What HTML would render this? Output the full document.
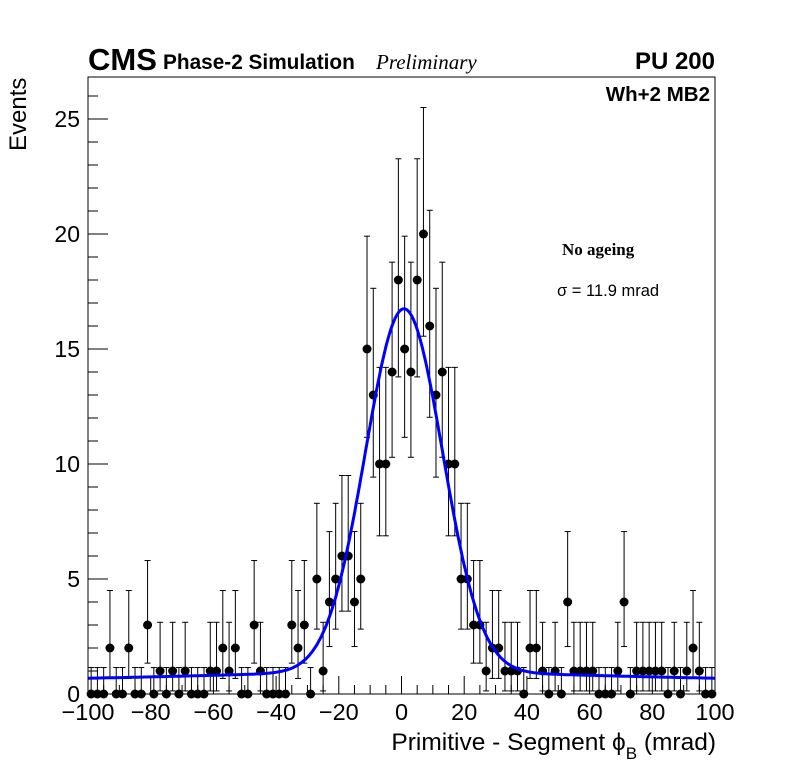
<!DOCTYPE html>
<html><head><meta charset="utf-8"><style>
body{margin:0;background:#fff;}
svg text{font-family:"Liberation Sans",sans-serif;}
</style></head><body>
<svg id="chart" width="796" height="772" xmlns="http://www.w3.org/2000/svg">
<rect width="796" height="772" fill="#fff"/>
<g id="axes"></g>
<g id="marks"></g>
<path id="fit" fill="none" stroke="#0000ff" stroke-width="3"/>
<rect x="88" y="77" width="627" height="617" fill="none" stroke="#000" stroke-width="1"/>
<text x="88" y="70" font-size="31" font-weight="bold">CMS</text>
<text x="163" y="69" font-size="20.8" font-weight="bold">Phase-2 Simulation</text>
<text x="376" y="69" font-size="21" font-style="italic" style="font-family:'Liberation Serif',serif">Preliminary</text>
<text x="715" y="69" font-size="24" font-weight="bold" text-anchor="end">PU 200</text>
<text x="710" y="101" font-size="20.5" font-weight="bold" text-anchor="end">Wh+2 MB2</text>
<text x="562" y="255" font-size="17" font-weight="bold" style="font-family:'Liberation Serif',serif">No ageing</text>
<text x="557" y="296" font-size="16.5">σ = 11.9 mrad</text>
<text transform="translate(26,151) rotate(-90)" font-size="24" text-anchor="start">Events</text>
<text x="716" y="750" font-size="24.5" text-anchor="end">Primitive - Segment ϕ<tspan font-size="17" dy="9">B</tspan><tspan dy="-9"> (mrad)</tspan></text>
</svg>
<script>
const counts=[0,0,0,2,0,0,2,0,0,3,0,1,0,1,0,1,0,0,0,1,1,2,1,2,0,0,3,1,0,0,0,0,3,2,3,0,5,1,4,5,6,6,4,5,15,13,10,10,14,18,15,14,18,20,16,13,14,10,10,5,5,3,3,1,2,2,1,1,1,0,2,2,1,0,1,0,4,1,1,1,1,0,0,0,1,4,0,1,1,1,1,1,0,1,0,1,2,1,0,0];
const xMin=-100, binWidth=2;
const fitAmp=15.8, fitMean=0.8, fitSigma=12.3, bkgBase=0.6, bkgAmp=0.35, bkgWidth=60;
const xTicks=[-100,-80,-60,-40,-20,0,20,40,60,80,100];
const yTicks=[0,5,10,15,20,25];
const NS="http://www.w3.org/2000/svg";
const X0=88,X1=715,Y0=694,PPU=23;
function sx(v){return X0+(v-xMin)/200*(X1-X0);}
function sy(v){return Y0-v*PPU;}
function mk(tag,attrs,parent){const e=document.createElementNS(NS,tag);for(const k in attrs)e.setAttribute(k,attrs[k]);parent.appendChild(e);return e;}
const axes=document.getElementById('axes'),marks=document.getElementById('marks');
for(let v=-100;v<=100;v+=5){
  const major=v%20===0;const t=mk('line',{x1:sx(v),x2:sx(v),y1:Y0,y2:Y0-(major?18:9),stroke:'#000','stroke-width':1},axes);
  
  
}
xTicks.forEach(v=>{const t=mk('text',{x:sx(v),y:720,'font-size':23.5,'text-anchor':'middle'},axes);t.textContent=(v<0?'\u2212'+(-v):v);
  
  });
for(let v=0;v<=26;v+=1){
  const major=v%5===0;const t=mk('line',{x1:X0,x2:X0+(major?20:10),y1:sy(v),y2:sy(v),stroke:'#000','stroke-width':1},axes);
  
  
}
yTicks.forEach(v=>{const t=mk('text',{x:80,y:sy(v)+8,'font-size':23,'text-anchor':'end'},axes);t.textContent=v;
  
  });
counts.forEach((n,i)=>{
  const xc=xMin+binWidth*(i+0.5),px=sx(xc);
  const up=n===0?1.15:n+Math.sqrt(n+0.25)+1;
  const lo=n===0?0:Math.max(0,n-Math.sqrt(n-0.25));
  const g=mk('g',{},marks);
  
  
  mk('line',{x1:px,x2:px,y1:sy(up),y2:sy(lo),stroke:'#000','stroke-width':1},g);
  mk('line',{x1:px-3,x2:px+3,y1:sy(up),y2:sy(up),stroke:'#000','stroke-width':1},g);
  if(n>0)mk('line',{x1:px-3,x2:px+3,y1:sy(lo),y2:sy(lo),stroke:'#000','stroke-width':1},g);
  mk('circle',{cx:px,cy:sy(n),r:4.5,fill:'#000'},g);
});
let d='';
for(let v=-100;v<=100;v+=0.5){
  const y=fitAmp*Math.exp(-Math.pow(v-fitMean,2)/(2*fitSigma*fitSigma))+bkgBase+bkgAmp*Math.exp(-v*v/(2*bkgWidth*bkgWidth));
  d+=(d?'L':'M')+sx(v).toFixed(1)+','+sy(y).toFixed(1);
}
document.getElementById('fit').setAttribute('d',d);
</script>
</body></html>
